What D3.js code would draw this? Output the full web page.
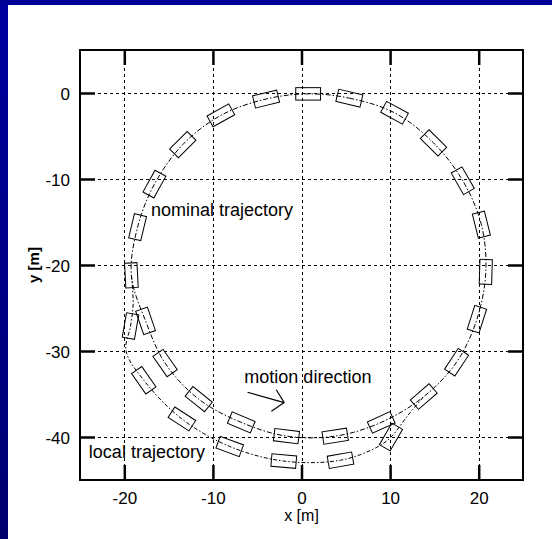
<!DOCTYPE html>
<html>
<head>
<meta charset="utf-8">
<script src="https://cdn.jsdelivr.net/npm/d3@7/dist/d3.min.js"></script>
<style>
  html, body { margin: 0; padding: 0; background: #ffffff; }
  svg { display: block; }
  text { font-family: "Liberation Sans", Arial, sans-serif; fill: #000; }
</style>
</head>
<body>
<svg id="chart" width="552" height="539"></svg>
<script>
// ---------------- data ----------------
const xTicks = [-20, -10, 0, 10, 20];
const yTicks = [0, -10, -20, -30, -40];
const xDomain = [-25, 25];
const yDomain = [-45, 5];

// vehicle poses along nominal trajectory: x [m], y [m], heading [deg]
const nominalX = [0.75, 5.4, 10.5, 14.9, 18.2, 20.3, 20.8, 19.8, 17.5, 13.8, 9.0, 3.8,
                  -1.7, -6.8, -11.6, -15.4, -17.6, -19.2, -18.5, -16.6, -13.4, -9.1, -4.0];
const nominalY = [-0.1, -0.6, -2.3, -5.8, -10.2, -15.3, -20.8, -26.3, -31.3, -35.3, -38.3, -39.9,
                  -39.9, -38.3, -35.6, -31.4, -26.5, -21.2, -15.6, -10.6, -6.0, -2.6, -0.7];
const nominalH = [0, -13.3, -28.6, -44.5, -60.2, -76, 88.3, 72.2, 56.5, 41, 24.5, 9,
                  -7, -22.6, -38.7, -55, -71, -87, 76.6, 61, 45, 29, 13.7];

// local trajectory path vertices
const localPathX = [-19.2, -19.0, -19.3, -19.8, -17.8, -13.5, -8.1, -2.0, 4.4, 8.5, 10.1, 12.0, 13.8];
const localPathY = [-21.2, -24.5, -27.1, -30.0, -33.4, -37.9, -41.1, -42.8, -42.7, -41.2, -40.0, -37.5, -35.3];

// vehicle poses along local trajectory
const localX = [-19.3, -17.8, -13.5, -8.1, -2.0, 4.4, 10.1];
const localY = [-27.1, -33.4, -37.9, -41.1, -42.8, -42.7, -40.0];
const localH = [80, -55, -33, -20, -5, 10, 60];

// annotations
const labelText = ["nominal trajectory", "local trajectory", "motion direction"];
const labelX = [-17.0, -24.0, -6.45];
const labelY = [-14.3, -42.4, -33.7];

// motion arrow: shaft start, tip, two head ends
const arrowX = [-6.1, -1.95, -2.85, -3.4];
const arrowY = [-34.8, -36.0, -34.5, -37.0];

const vehicleLength = 2.8; // m
const vehicleWidth = 1.4; // m

// ---------------- drawing ----------------
const W = 552, H = 539;
const plot = { left: 80, right: 523, top: 50, bottom: 480 };
const svg = d3.select("#chart");

// frame background
const defs = svg.append("defs");
const grad = defs.append("linearGradient").attr("id", "lbar")
  .attr("x1", 0).attr("y1", 0).attr("x2", 0).attr("y2", 1);
grad.append("stop").attr("offset", "0%").attr("stop-color", "#0000a0");
grad.append("stop").attr("offset", "100%").attr("stop-color", "#000070");
svg.append("rect").attr("x", 0).attr("y", 0).attr("width", W).attr("height", H).attr("fill", "#fff");
svg.append("rect").attr("x", 0).attr("y", 0).attr("width", 8).attr("height", H).attr("fill", "url(#lbar)");
svg.append("rect").attr("x", 0).attr("y", 0).attr("width", W).attr("height", 5).attr("fill", "#000099");

const x = d3.scaleLinear().domain(xDomain).range([plot.left, plot.right]);
const y = d3.scaleLinear().domain(yDomain).range([plot.bottom, plot.top]);

// grid (dotted)
const grid = svg.append("g").attr("stroke", "#000").attr("stroke-width", 1)
  .attr("stroke-dasharray", "3,3").attr("fill", "none");
xTicks.forEach(t => grid.append("line")
  .attr("x1", Math.round(x(t)) + 0.5).attr("x2", Math.round(x(t)) + 0.5)
  .attr("y1", plot.top).attr("y2", plot.bottom));
yTicks.forEach(t => grid.append("line")
  .attr("y1", Math.round(y(t)) + 0.5).attr("y2", Math.round(y(t)) + 0.5)
  .attr("x1", plot.left).attr("x2", plot.right));

// axes with D3 (inward ticks)
const tickLen = 15;
const fmt = d => String(d);
const gB = svg.append("g").attr("transform", `translate(0,${plot.bottom})`)
  .call(d3.axisBottom(x).tickValues(xTicks).tickSize(-tickLen).tickPadding(10).tickFormat(fmt));
const gT = svg.append("g").attr("transform", `translate(0,${plot.top})`)
  .call(d3.axisTop(x).tickValues(xTicks).tickSize(-tickLen).tickFormat(""));
const gL = svg.append("g").attr("transform", `translate(${plot.left},0)`)
  .call(d3.axisLeft(y).tickValues(yTicks).tickSize(-tickLen).tickPadding(10).tickFormat(fmt));
const gR = svg.append("g").attr("transform", `translate(${plot.right},0)`)
  .call(d3.axisRight(y).tickValues(yTicks).tickSize(-tickLen).tickFormat(""));
[gB, gT, gL, gR].forEach(g => {
  g.select(".domain").remove();
  g.selectAll(".tick line").attr("stroke", "#000").attr("stroke-width", 2.5);
  g.selectAll(".tick text").attr("font-size", 17).attr("font-family", "Liberation Sans, Arial, sans-serif").attr("fill", "#000");
});
gB.selectAll(".tick text").attr("dy", null).attr("y", 24);
gL.selectAll(".tick text").attr("x", -10).attr("dy", "0.36em");

// plot box
svg.append("rect").attr("x", plot.left).attr("y", plot.top)
  .attr("width", plot.right - plot.left).attr("height", plot.bottom - plot.top)
  .attr("fill", "none").attr("stroke", "#000").attr("stroke-width", 2);

// axis titles
svg.append("text").attr("x", x(0)).attr("y", 521).attr("text-anchor", "middle")
  .attr("font-size", 16).text("x [m]");
svg.append("text").attr("transform", `translate(38.5,${y(-20)}) rotate(-90)`)
  .attr("text-anchor", "middle").attr("font-size", 15).attr("font-weight", "bold").text("y [m]");

// trajectories
const nominalPts = nominalX.map((v, i) => [v, nominalY[i]]);
const localPts = localPathX.map((v, i) => [v, localPathY[i]]);
const line = d3.line().x(d => x(d[0])).y(d => y(d[1]));

svg.append("path").attr("d", line.curve(d3.curveCatmullRomClosed.alpha(0.5))(nominalPts))
  .attr("fill", "none").attr("stroke", "#000").attr("stroke-width", 1)
  .attr("stroke-dasharray", "5,2,1.5,2");
svg.append("path").attr("d", line.curve(d3.curveCatmullRom.alpha(0.5))(localPts))
  .attr("fill", "none").attr("stroke", "#000").attr("stroke-width", 1)
  .attr("stroke-dasharray", "4,2,1.5,2");

// vehicles
const Lpx = x(vehicleLength) - x(0);
const Wpx = x(vehicleWidth) - x(0);
function drawVehicles(xs, ys, hs) {
  svg.append("g").selectAll("rect").data(xs.map((v, i) => ({ x: v, y: ys[i], h: hs[i] })))
    .join("rect")
    .attr("x", -Lpx / 2).attr("y", -Wpx / 2).attr("width", Lpx).attr("height", Wpx)
    .attr("transform", d => `translate(${x(d.x)},${y(d.y)}) rotate(${-d.h})`)
    .attr("fill", "none").attr("stroke", "#000").attr("stroke-width", 1);
}
drawVehicles(nominalX, nominalY, nominalH);
drawVehicles(localX, localY, localH);

// labels
labelText.forEach((t, i) => {
  svg.append("text").attr("x", x(labelX[i])).attr("y", y(labelY[i]))
    .attr("font-size", 18).text(t);
});

// motion arrow
const ag = svg.append("g").attr("stroke", "#000").attr("stroke-width", 1.2).attr("fill", "none");
[[0, 1], [2, 1], [3, 1]].forEach(([a, b]) => ag.append("line")
  .attr("x1", x(arrowX[a])).attr("y1", y(arrowY[a]))
  .attr("x2", x(arrowX[b])).attr("y2", y(arrowY[b])));
</script>
</body>
</html>
